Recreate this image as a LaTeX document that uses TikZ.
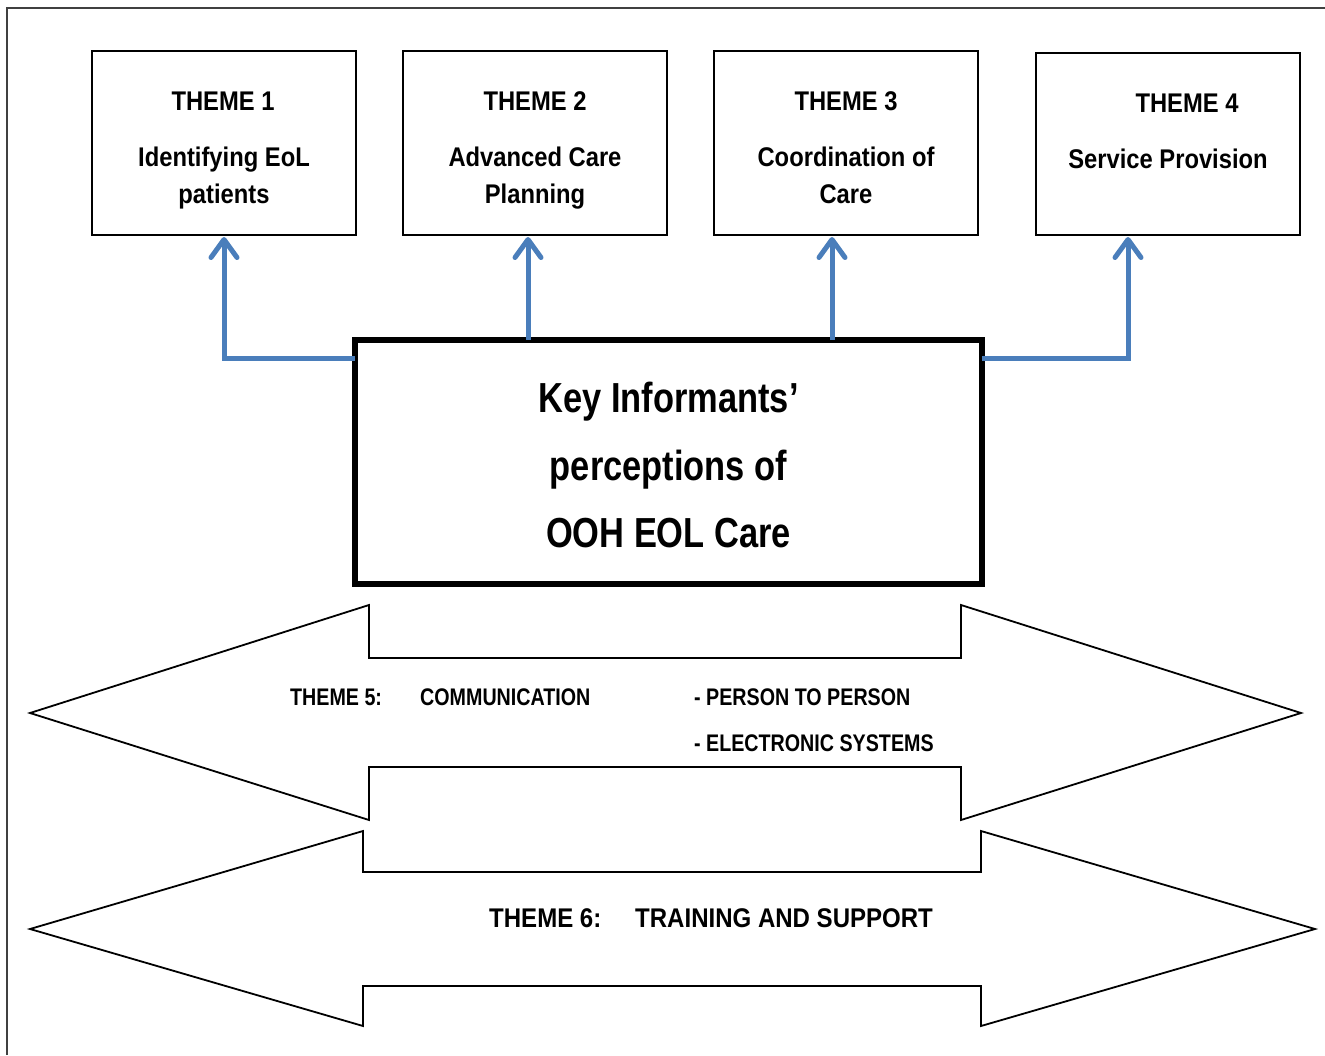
\documentclass[tikz,border=0pt]{standalone}
\usepackage{fontspec}
\setmainfont{Liberation Sans}
\newfontfamily\fa[FakeStretch=0.88]{Liberation Sans}
\newfontfamily\fb[FakeStretch=0.82]{Liberation Sans}
\newfontfamily\fc[FakeStretch=0.89]{Liberation Sans}
\usetikzlibrary{arrows.meta}
\definecolor{arrowblue}{HTML}{4A7EBB}
\tikzset{
  themebox/.style={draw=black, line width=1.8pt, minimum width=264pt, minimum height=184pt, inner sep=0pt, outer sep=0pt},
  ttext/.style={anchor=base, inner sep=0pt, font=\fa\bfseries\fontsize{27}{32}\selectfont},
  ktext/.style={anchor=base, inner sep=0pt, font=\fb\bfseries\fontsize{42}{48}\selectfont},
  ftext/.style={anchor=base west, inner sep=0pt, font=\fb\bfseries\fontsize{24}{28}\selectfont},
  stext/.style={anchor=base west, inner sep=0pt, font=\fc\bfseries\fontsize{27}{32}\selectfont},
  bluearrow/.style={draw=arrowblue, line width=5pt, line join=miter, -{Straight Barb[length=18pt,width=26pt,round]}},
  bigarrow/.style={draw=black, line width=1.8pt, line join=miter},
}
\begin{document}
\begin{tikzpicture}[x=1pt,y=-1pt]
\useasboundingbox (0,0) rectangle (1325,1055);
% outer frame (left and top visible)
\draw[line width=2pt, black!75] (7,1055) -- (7,8) -- (1325,8);

% theme boxes
\node[themebox] (t1) at (224,143) {};
\node[themebox] (t2) at (535,143) {};
\node[themebox] (t3) at (846,143) {};
\node[themebox, minimum height=182pt] (t4) at (1168,144) {};

\node[ttext] (t1a) at (223,110) {THEME 1};
\node[ttext] (t1b) at (224,166) {Identifying EoL};
\node[ttext] (t1c) at (224,203) {patients};

\node[ttext] (t2a) at (535,110) {THEME 2};
\node[ttext] (t2b) at (535,166) {Advanced Care};
\node[ttext] (t2c) at (535,203) {Planning};

\node[ttext] (t3a) at (846,110) {THEME 3};
\node[ttext] (t3b) at (846,166) {Coordination of};
\node[ttext] (t3c) at (846,203) {Care};

\node[ttext] (t4a) at (1187,112) {THEME 4};
\node[ttext] (t4b) at (1168,168) {Service Provision};

% central box
\node[draw=black, line width=6pt, minimum width=627pt, minimum height=244pt, inner sep=0pt, outer sep=0pt] (key) at (668.5,462) {};
\node[ktext] (k1) at (668.5,412) {Key Informants’};
\node[ktext] (k2) at (668.5,480) {perceptions of};
\node[ktext] (k3) at (668.5,547) {OOH EOL Care};

% blue connectors
\coordinate (c1) at (224,237);
\coordinate (c2) at (528,237);
\coordinate (c3) at (832,237);
\coordinate (c4) at (1128,237);
\draw[bluearrow] ([yshift=-18pt]key.north west) -| (c1);
\draw[bluearrow] (c2 |- key.north) -- (c2);
\draw[bluearrow] (c3 |- key.north) -- (c3);
\draw[bluearrow] ([yshift=-18pt]key.north east) -| (c4);

% double arrow 1
\draw[bigarrow] (30,713) -- (369,605) -- (369,658) -- (961,658) -- (961,605) -- (1301,713)
  -- (961,820) -- (961,767) -- (369,767) -- (369,820) -- cycle;
\node[ftext] (f1) at (290,705) {THEME 5:};
\node[ftext] (f2) at (420,705) {COMMUNICATION};
\node[ftext] (f3) at (694,705) {- PERSON TO PERSON};
\node[ftext] (f4) at (694,751) {- ELECTRONIC SYSTEMS};

% double arrow 2
\draw[bigarrow] (30,929) -- (363,831) -- (363,872) -- (981,872) -- (981,831) -- (1315,929)
  -- (981,1026) -- (981,986) -- (363,986) -- (363,1026) -- cycle;
\node[stext] (s1) at (489,927) {THEME 6:};
\node[stext] (s2) at (635,927) {TRAINING AND SUPPORT};
\end{tikzpicture}
\end{document}
